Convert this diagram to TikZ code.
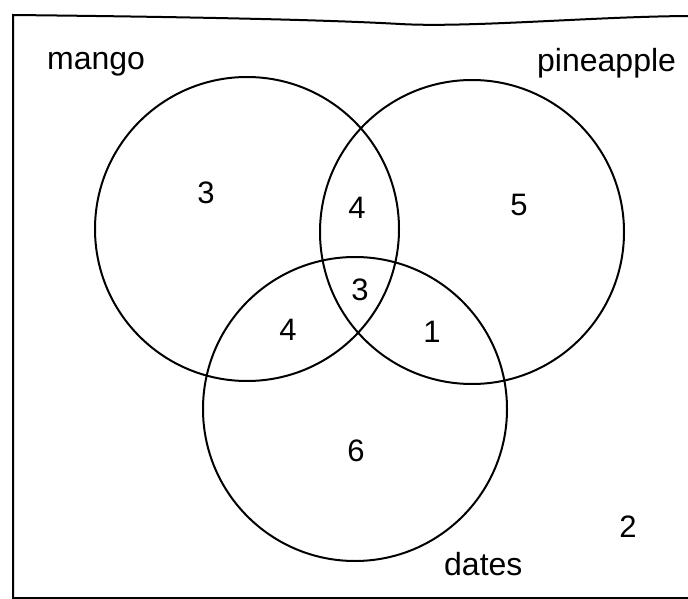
\documentclass[tikz,border=0pt]{standalone}
\usepackage{fontspec}
\setmainfont{Liberation Sans}
\usetikzlibrary{positioning}

\tikzset{
  setring/.style={draw, circle, line width=2pt, minimum size=304pt, inner sep=0pt},
  count/.style={font=\fontsize{31}{36}\selectfont, inner sep=0pt},
  setname/.style={font=\fontsize{32}{38}\selectfont, inner sep=0pt, anchor=base west}
}

\begin{document}
\begin{tikzpicture}[x=1pt, y=-1pt]
\useasboundingbox (0,0) rectangle (688,599);

% Cadre
\draw[line width=2pt] (695,598) -- (13,598) -- (13,15)
  .. controls (200,17) and (330,20) .. (400,24)
  .. controls (470,28) and (600,16) .. (695,16);

% Ensembles
\node[setring] (mango) at (247,229) {};
\node[setring] (pine) at (472,232) {};
\node[setring] (dates) at (355,409) {};

\node[setname] (mangolbl) at (47,70) {mango};
\node[setname] (pinelbl) at (537,72) {pineapple};
\node[setname] (dateslbl) at (444,575) {dates};

% Effectifs
\node[count] (m) at (206,193) {3};
\node[count] (mp) at (357,208) {4};
\node[count] (p) at (519,205) {5};
\node[count] (mpd) at (360,290) {3};
\node[count] (md) at (288,330) {4};
\node[count] (pd) at (432,332) {1};
\node[count] (d) at (356,451) {6};
\node[count] (out) at (628,527) {2};
\end{tikzpicture}
\end{document}
